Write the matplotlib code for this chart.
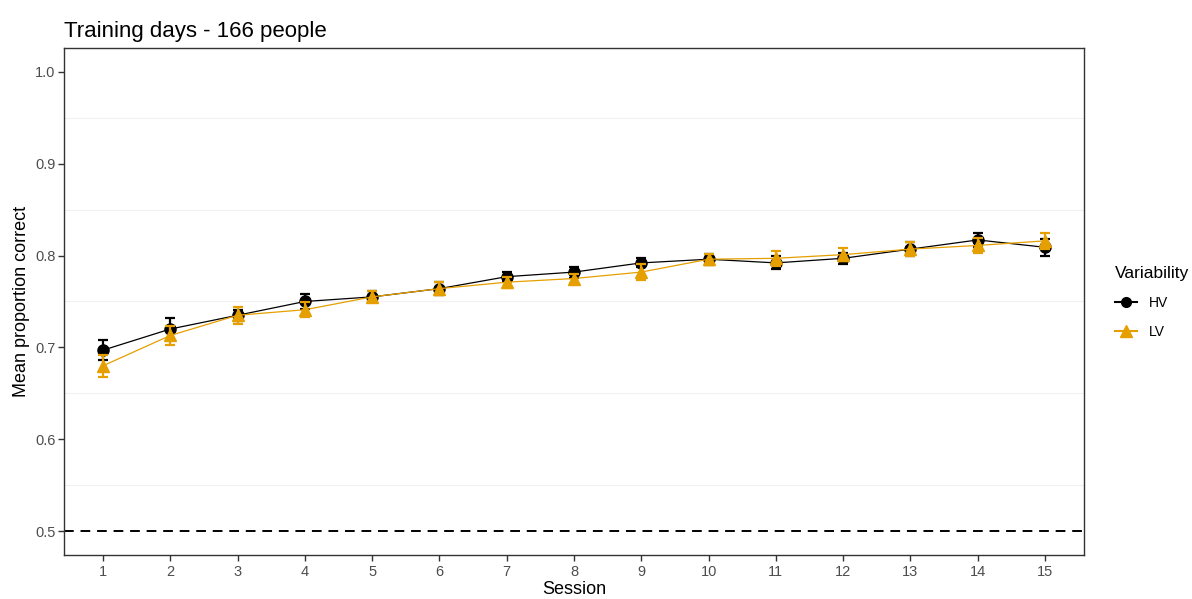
import numpy as np
import matplotlib
matplotlib.use("Agg")
import matplotlib.pyplot as plt
from matplotlib.lines import Line2D

plt.rcParams['font.family'] = ['Liberation Sans', 'DejaVu Sans']

# data
sessions = np.arange(1, 16)
hv_mean = [0.697, 0.720, 0.735, 0.750, 0.755, 0.764, 0.777, 0.782, 0.792, 0.796,
           0.792, 0.797, 0.807, 0.817, 0.809]
hv_se = [0.011, 0.012, 0.006, 0.008, 0.006, 0.007, 0.005, 0.006, 0.005, 0.006,
         0.007, 0.006, 0.008, 0.008, 0.009]
lv_mean = [0.680, 0.713, 0.735, 0.741, 0.755, 0.764, 0.771, 0.775, 0.782, 0.796,
           0.797, 0.801, 0.807, 0.811, 0.816]
lv_se = [0.012, 0.010, 0.009, 0.008, 0.006, 0.007, 0.006, 0.005, 0.009, 0.006,
         0.008, 0.007, 0.008, 0.008, 0.009]

orange = '#E69F00'
grey20 = '#333333'

fig = plt.figure(figsize=(11.92, 5.99), dpi=100)
ax = fig.add_axes([0.0537, 0.0735, 0.8557, 0.8464])

ax.axhline(0.5, color='black', lw=1.4, ls=(0, (5, 3.5)), zorder=1)

ax.errorbar(sessions, hv_mean, yerr=hv_se, color='black', lw=0.9, marker='o',
            ms=8, capsize=3.5, capthick=1.6, elinewidth=1.6, zorder=3)
ax.errorbar(sessions, lv_mean, yerr=lv_se, color=orange, lw=0.9, marker='^',
            ms=9, capsize=3.5, capthick=1.6, elinewidth=1.6, zorder=4)

ax.set_xlim(0.42, 15.58)
ax.set_ylim(0.474, 1.026)
ax.set_xticks(sessions)
ax.set_yticks([0.5, 0.6, 0.7, 0.8, 0.9, 1.0])
ax.set_yticklabels(['0.5', '0.6', '0.7', '0.8', '0.9', '1.0'])
ax.set_yticks([0.55, 0.65, 0.75, 0.85, 0.95], minor=True)
ax.grid(True, which='minor', axis='y', color='#F0F0F0', lw=0.8, zorder=0)
ax.tick_params(axis='y', which='minor', length=0)
ax.tick_params(which='major', length=4, width=1, color=grey20,
               labelcolor='#4D4D4D', labelsize=10.5, pad=2)
ax.tick_params(axis='x', pad=3.5)
for s in ax.spines.values():
    s.set_color(grey20)
    s.set_linewidth(1)

ax.set_xlabel('Session', fontsize=13, labelpad=1.5)
ax.set_ylabel('Mean proportion correct', fontsize=13, labelpad=4)
ax.set_title('Training days - 166 people', loc='left', fontsize=16, pad=8)

handles = [Line2D([], [], color='black', marker='o', ms=7, lw=1.5),
           Line2D([], [], color=orange, marker='^', ms=8, lw=1.5)]
fig.legend(handles, ['HV', 'LV'], title='Variability', loc='center left',
           bbox_to_anchor=(0.925, 0.495), frameon=False, fontsize=10,
           title_fontsize=12.5, handlelength=1.6, labelspacing=1.1,
           alignment='left')

fig.savefig('out.png', dpi=100)
